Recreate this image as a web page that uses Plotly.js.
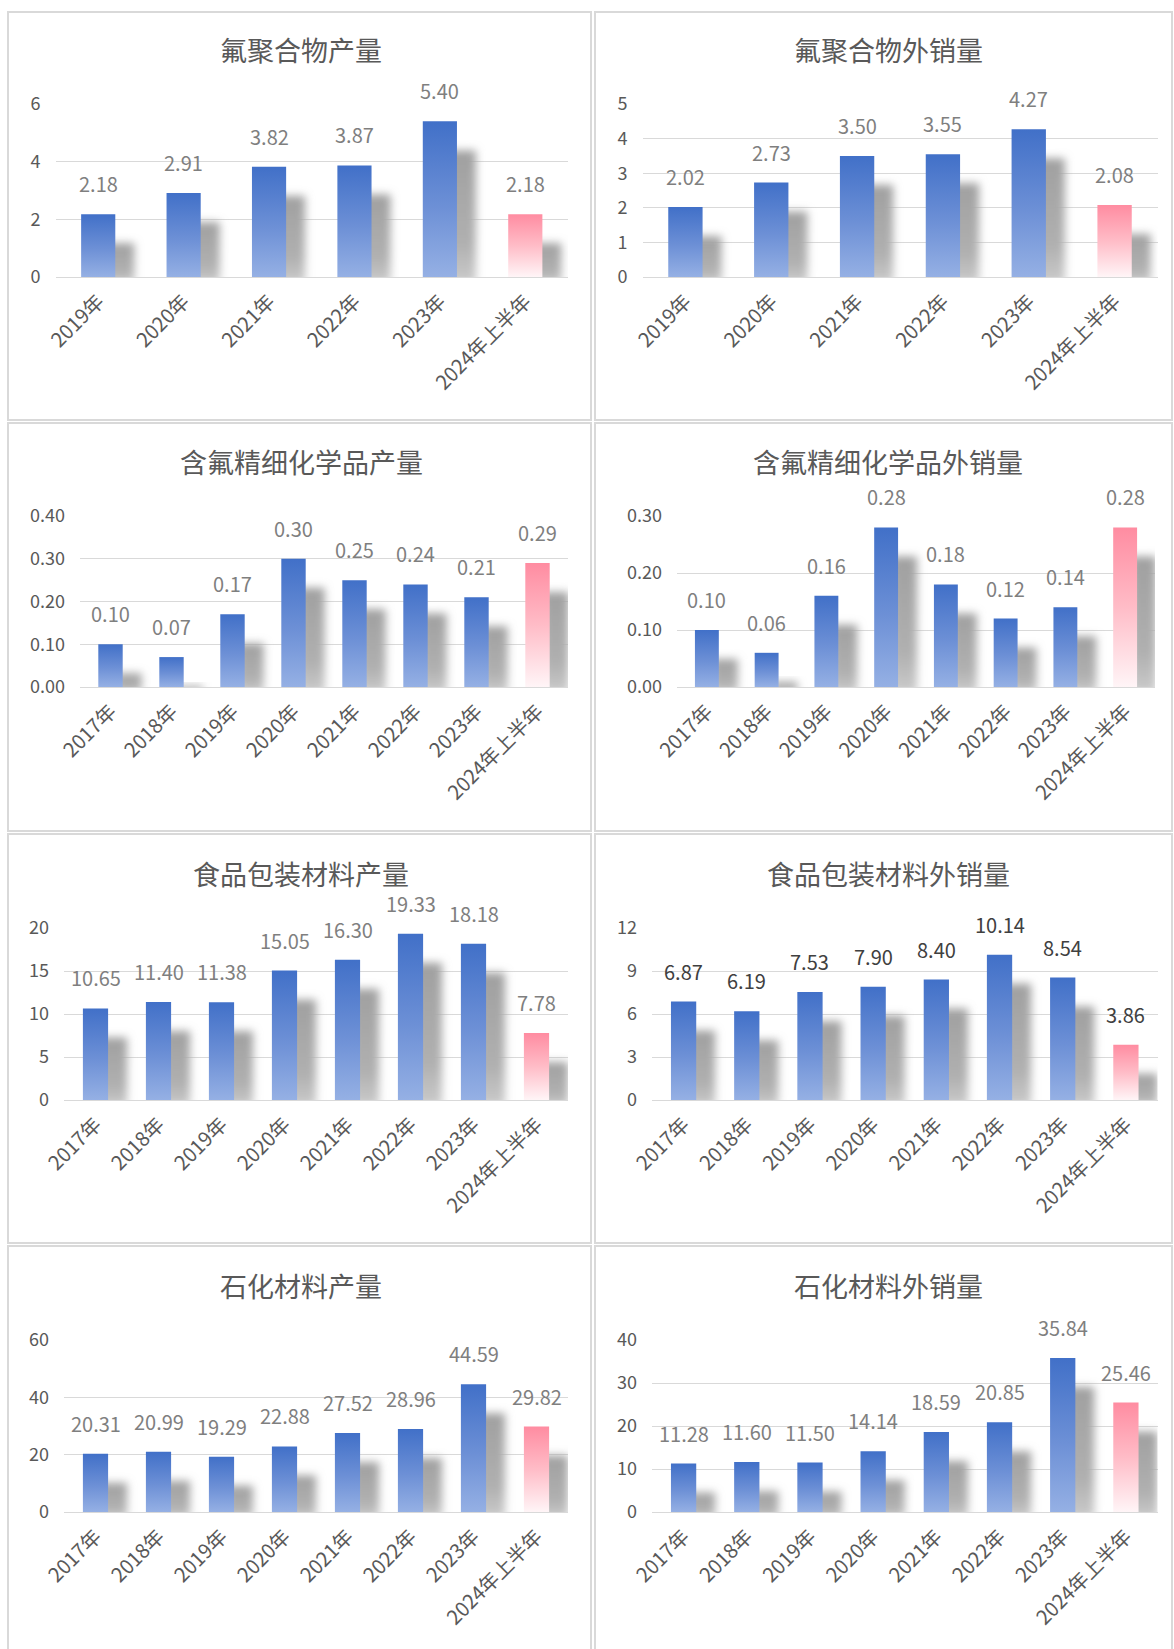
<!DOCTYPE html>
<html><head><meta charset="utf-8">
<script src="https://cdn.plot.ly/plotly-3.0.1.min.js"></script>
<style>html,body{margin:0;padding:0;background:#fff;} #chart{width:1174px;height:1649px;}</style>
</head><body><div id="chart"></div>
<script>
// ---------- data ----------
const years6 = ['2019年','2020年','2021年','2022年','2023年','2024年上半年'];
const years8 = ['2017年','2018年','2019年','2020年','2021年','2022年','2023年','2024年上半年'];

const fluoropolymerOutput = [2.18, 2.91, 3.82, 3.87, 5.40, 2.18];
const fluoropolymerSales  = [2.02, 2.73, 3.50, 3.55, 4.27, 2.08];
const fineChemOutput = [0.10, 0.07, 0.17, 0.30, 0.25, 0.24, 0.21, 0.29];
const fineChemSales  = [0.10, 0.06, 0.16, 0.28, 0.18, 0.12, 0.14, 0.28];
const foodPackOutput = [10.65, 11.40, 11.38, 15.05, 16.30, 19.33, 18.18, 7.78];
const foodPackSales  = [6.87, 6.19, 7.53, 7.90, 8.40, 10.14, 8.54, 3.86];
const petroOutput = [20.31, 20.99, 19.29, 22.88, 27.52, 28.96, 44.59, 29.82];
const petroSales  = [11.28, 11.60, 11.50, 14.14, 18.59, 20.85, 35.84, 25.46];

const titles = ['氟聚合物产量','氟聚合物外销量','含氟精细化学品产量','含氟精细化学品外销量',
                '食品包装材料产量','食品包装材料外销量','石化材料产量','石化材料外销量'];
const seriesList = [fluoropolymerOutput, fluoropolymerSales, fineChemOutput, fineChemSales,
                    foodPackOutput, foodPackSales, petroOutput, petroSales];
const catList = [years6, years6, years8, years8, years8, years8, years8, years8];
const axisMax = [6, 5, 0.4, 0.3, 20, 12, 60, 40];
const axisStep = [2, 1, 0.1, 0.1, 5, 3, 20, 10];

// ---------- layout geometry (pixels) ----------
const W = 1174, H = 1649;
const FONT = '"Noto Sans CJK SC", "Noto Sans", sans-serif';
const plotX = [[55.5,568],[642.5,1157.5],[80,568],[677,1155],[64,568],[652,1157.5],[64,568],[652,1157.5]];
const rowY = [[104,277],[516,687],[928,1100],[1340,1512]];
const titleY = [49, 461, 873, 1285];
const titleX = [301, 888];
const boxX = [[8,591],[595,1172]];
const boxY = [[12,420],[423,831],[834,1243],[1246,1660]];
const px2x = p => p / W;
const px2y = p => 1 - p / H;

const traces = [];
const layout = {
  width: W, height: H,
  margin: {l:0, r:0, t:0, b:0},
  paper_bgcolor: '#ffffff', plot_bgcolor: '#ffffff',
  showlegend: false,
  font: {family: FONT, color: '#595959'},
  annotations: [], shapes: [],
  bargap: 0.6
};

for (let i = 0; i < 8; i++) {
  const row = Math.floor(i / 2), col = i % 2;
  const xa = i === 0 ? 'xaxis' : 'xaxis' + (i + 1);
  const ya = i === 0 ? 'yaxis' : 'yaxis' + (i + 1);
  const xr = i === 0 ? 'x' : 'x' + (i + 1);
  const yr = i === 0 ? 'y' : 'y' + (i + 1);
  const vals = seriesList[i];
  const cats = catList[i];
  traces.push({
    type: 'bar', x: cats, y: vals, xaxis: xr, yaxis: yr,
    marker: {color: vals.map((v, k) => k === vals.length - 1 ? '#ff8fa3' : '#4472c4'), line: {width: 0}},
    hoverinfo: 'none'
  });
  layout[xa] = {
    domain: [px2x(plotX[i][0]), px2x(plotX[i][1])],
    anchor: yr, type: 'category', tickangle: -45, showgrid: false, zeroline: false,
    showline: false, ticks: '', ticklabelstandoff: 8,
    tickfont: {family: FONT, size: 20, color: '#595959'}, fixedrange: true
  };
  layout[ya] = {
    domain: [px2y(rowY[row][1]), px2y(rowY[row][0])],
    anchor: xr, range: [0, axisMax[i]], dtick: axisStep[i], tick0: 0,
    tickformat: axisStep[i] < 1 ? '.2f' : 'd',
    showgrid: true, gridcolor: '#d9d9d9', gridwidth: 1,
    zeroline: true, zerolinecolor: '#d9d9d9', zerolinewidth: 1,
    showline: false, ticks: '', ticklabelstandoff: 14,
    tickfont: {family: FONT, size: 18, color: '#595959'}, fixedrange: true
  };
  // value labels above bars
  const lblColor = i === 5 ? '#404040' : '#7f7f7f';
  vals.forEach((v, k) => {
    layout.annotations.push({
      xref: xr, yref: yr, x: cats[k], y: v, text: v.toFixed(2),
      showarrow: false, yanchor: 'bottom', xanchor: 'center', yshift: 14,
      font: {family: FONT, size: 20, color: lblColor}
    });
  });
  // panel title
  layout.annotations.push({
    xref: 'paper', yref: 'paper', x: px2x(titleX[col]), y: px2y(titleY[row]),
    text: titles[i], showarrow: false, xanchor: 'center', yanchor: 'middle',
    font: {family: FONT, size: 27, color: '#595959'}
  });
  // panel frame
  layout.shapes.push({
    type: 'rect', xref: 'paper', yref: 'paper', layer: 'below',
    x0: px2x(boxX[col][0]), x1: px2x(boxX[col][1]),
    y0: px2y(boxY[row][1]), y1: px2y(boxY[row][0]),
    line: {color: '#d9d9d9', width: 2}, fillcolor: 'rgba(0,0,0,0)'
  });
}

const gd = document.getElementById('chart');
Plotly.newPlot(gd, traces, layout, {staticPlot: true, displayModeBar: false}).then(function () {
  const NS = 'http://www.w3.org/2000/svg';
  const svg = gd.querySelector('svg.main-svg');
  let defs = svg.querySelector('defs');
  if (!defs) { defs = document.createElementNS(NS, 'defs'); svg.insertBefore(defs, svg.firstChild); }
  function grad(id, stops) {
    const g = document.createElementNS(NS, 'linearGradient');
    g.setAttribute('id', id); g.setAttribute('x1', '0'); g.setAttribute('y1', '0');
    g.setAttribute('x2', '0'); g.setAttribute('y2', '1');
    stops.forEach(s => {
      const st = document.createElementNS(NS, 'stop');
      st.setAttribute('offset', s[0]); st.setAttribute('stop-color', s[1]);
      g.appendChild(st);
    });
    defs.appendChild(g);
  }
  grad('gBlue', [['0', '#4170c8'], ['0.55', '#6d90d6'], ['1', '#95b0e4']]);
  grad('gPink', [['0', '#ff8ca1'], ['0.5', '#ffbcc7'], ['1', '#fff5f7']]);
  grad('gShadow', [['0', '#a0a0a0'], ['0.7', '#b0b0b0'], ['1', '#cbcbcb']]);
  const f = document.createElementNS(NS, 'filter');
  f.setAttribute('id', 'fBlur'); f.setAttribute('x', '-50%'); f.setAttribute('y', '-50%');
  f.setAttribute('width', '200%'); f.setAttribute('height', '200%');
  const gb = document.createElementNS(NS, 'feGaussianBlur');
  gb.setAttribute('stdDeviation', '4');
  f.appendChild(gb); defs.appendChild(f);

  gd.querySelectorAll('.barlayer .trace').forEach(function (tr) {
    const ptsGroup = tr.querySelector('.points');
    const pts = Array.from(tr.querySelectorAll('.point'));
    const n = pts.length;
    const shadows = [];
    pts.forEach(function (pt, k) {
      const path = pt.querySelector('path');
      if (!path) return;
      path.style.setProperty('fill', k === n - 1 ? 'url(#gPink)' : 'url(#gBlue)');
      const bb = path.getBBox();
      const dx = 17, dy = 29;
      const h = bb.height - dy;
      if (h > 0) {
        const r = document.createElementNS(NS, 'rect');
        r.setAttribute('x', bb.x + dx); r.setAttribute('y', bb.y + dy);
        r.setAttribute('width', bb.width + 2); r.setAttribute('height', h + 6);
        r.setAttribute('fill', 'url(#gShadow)');
        r.setAttribute('filter', 'url(#fBlur)');
        shadows.push(r);
      }
    });
    shadows.forEach(r => ptsGroup.insertBefore(r, ptsGroup.firstChild));
  });
});
</script>
</body></html>
